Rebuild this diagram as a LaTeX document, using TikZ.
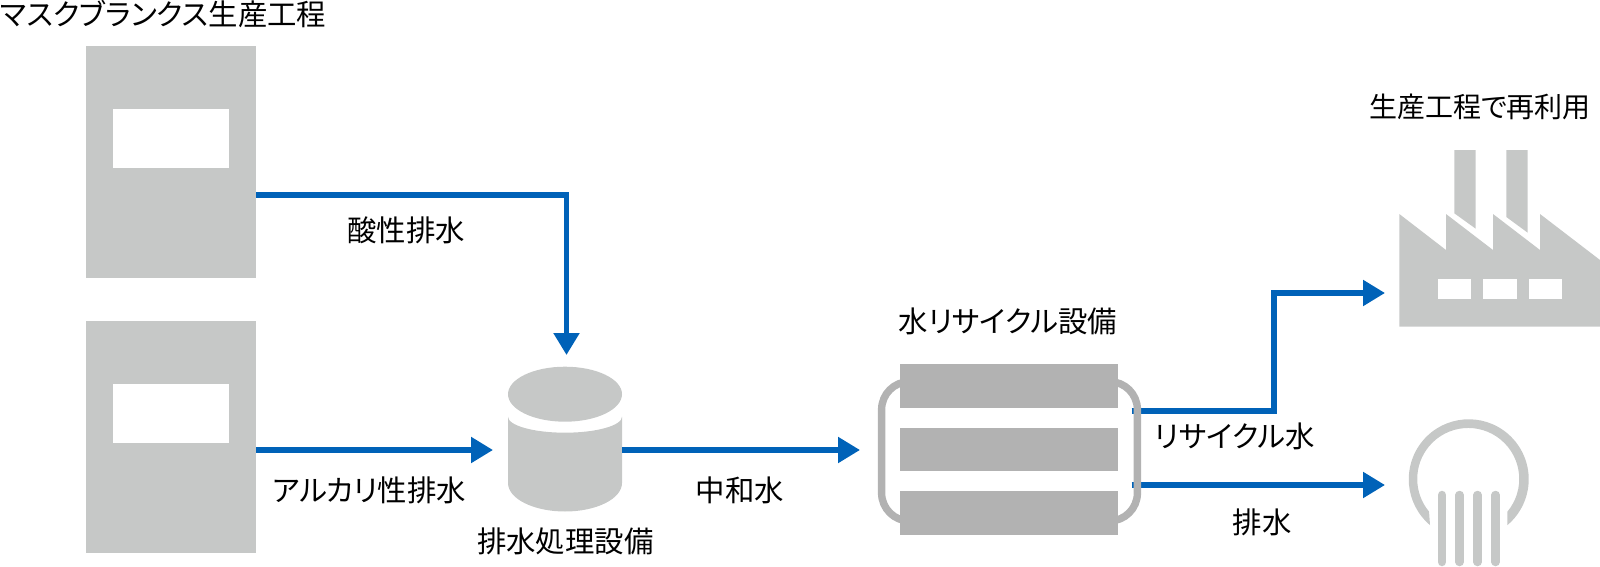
\documentclass[tikz,border=0pt]{standalone}
\usepackage{fontspec}
\setmainfont[RawFeature=+palt]{Noto Sans CJK JP}
\definecolor{flowblue}{RGB}{0, 98, 184}
\definecolor{lightgrey}{RGB}{198, 200, 199}
\definecolor{darkgrey}{RGB}{178, 178, 178}
\usepackage{tikz}
\usetikzlibrary{arrows.meta, backgrounds}
\tikzset{
  flow/.style={draw=flowblue, line width=2.6pt, -{Triangle[length=11pt, width=12.5pt]}},
  caption/.style={inner sep=0pt, font=\fontsize{14.7}{17}\selectfont},
  unitbox/.style={fill=lightgrey, inner sep=0pt, minimum width=85pt, minimum height=116pt},
  hole/.style={fill=white, inner sep=0pt},
  tray/.style={fill=darkgrey, inner sep=0pt, minimum width=109.2pt, minimum height=21.9pt},
  tine/.style={draw=lightgrey, line width=4.25pt, line cap=round}
}

\begin{document}
\begin{tikzpicture}[x=0.5pt, y=-0.5pt]
  \useasboundingbox (0,0) rectangle (1600,567);

  % Mask blanks process
  \node[caption, anchor=west] (masklabel) at (0,14) {マスクブランクス生産工程};
  \node[unitbox] (acid) at (171,161.7) {};
  \node[hole, minimum width=58pt, minimum height=29.5pt] (acidwin) at (171.4,138.5) {};
  \node[unitbox] (alkali) at (171,436.7) {};
  \node[hole, minimum width=58pt, minimum height=29.5pt] (alkaliwin) at (171.4,413.3) {};

  % Treatment tank
  \node[inner sep=0pt, minimum width=57pt, minimum height=72.5pt] (tank) at (565,439.5) {};
  \fill[lightgrey] (565,394.2) ellipse [x radius=57, y radius=27.5];
  \fill[lightgrey] (508,416.7) -- (508,483) arc[start angle=180, end angle=0, x radius=57, y radius=28.5]
    -- (622,416.7) arc[start angle=0, end angle=180, x radius=57, y radius=16] -- cycle;
  \node[caption] (tanklabel) at (565.3,541) {排水処理設備};

  % Recycling plant
  \node[draw=darkgrey, line width=3.7pt, rounded corners=14pt, inner sep=0pt, minimum width=127.9pt, minimum height=69.7pt] (recycle) at (1009.5,451.3) {};
  \node[tray] (tray1) at (1009.2,385.9) {};
  \node[tray] (tray2) at (1009.2,449.5) {};
  \node[tray] (tray3) at (1009.2,512.9) {};
  \node[caption] (recyclelabel) at (1008,321) {水リサイクル設備};

  % Factory
  \fill[lightgrey] (1399.3,214) -- (1446,250) -- (1446,214) -- (1493,250) -- (1493,214) -- (1540,250)
    -- (1540,214) -- (1600,260) -- (1600,326.7) -- (1399.3,326.7) -- cycle;
  \fill[lightgrey] (1454.3,150) -- (1454.3,213.3) -- (1475.7,228.7) -- (1475.7,150) -- cycle;
  \fill[lightgrey] (1506.3,150) -- (1506.3,217) -- (1527.7,232.7) -- (1527.7,150) -- cycle;
  \node[hole, minimum width=16.8pt, minimum height=10.3pt] (win1) at (1454.5,289) {};
  \node[hole, minimum width=16.8pt, minimum height=10.3pt] (win2) at (1500,289) {};
  \node[hole, minimum width=16.8pt, minimum height=10.3pt] (win3) at (1545.5,289) {};
  \node[caption, font=\fontsize{14}{17}\selectfont] (factorylabel) at (1480,107) {生産工程で再利用};

  % Outfall
  \node[inner sep=0pt, minimum width=60pt, minimum height=74pt] (outfall) at (1468.7,493) {};
  \fill[lightgrey] (1430,525.1) arc[start angle=130.2, end angle=409.8, radius=60]
    -- (1507.4,511.6) arc[start angle=39.8, end angle=-219.8, radius=51] -- cycle;
  \foreach \x in {1442,1459.7,1477.7,1495.7} {
    \draw[tine] (\x,495) -- (\x,562);
  }

  % Flows
  \coordinate (acidout) at (256,195);
  \coordinate (tanktop) at (566.5,355);
  \coordinate (tankin) at (493,450);
  \coordinate (recyclein) at (860,450);
  \coordinate (factoryin) at (1385,293);
  \coordinate (drainin) at (1385,485);
  \coordinate (reuseout) at ([xshift=-4.7pt]recycle.east);
  \draw[flow] (acidout) -| (tanktop);
  \draw[flow] (alkali.east |- tankin) -- (tankin);
  \draw[flow] (tank.east |- recyclein) -- (recyclein);
  \begin{scope}[on background layer]
    \draw[flow] (reuseout |- 0,411) -- (1274,411) |- (factoryin);
    \draw[flow] (reuseout |- drainin) -- (drainin);
  \end{scope}

  % Flow labels
  \node[caption] (acidlabel) at (406,230.6) {酸性排水};
  \node[caption] (alkalilabel) at (369.4,490) {アルカリ性排水};
  \node[caption] (neutrallabel) at (740,490) {中和水};
  \node[caption] (reuselabel) at (1234.7,436.7) {リサイクル水};
  \node[caption] (drainlabel) at (1262,522.5) {排水};
\end{tikzpicture}
\end{document}
